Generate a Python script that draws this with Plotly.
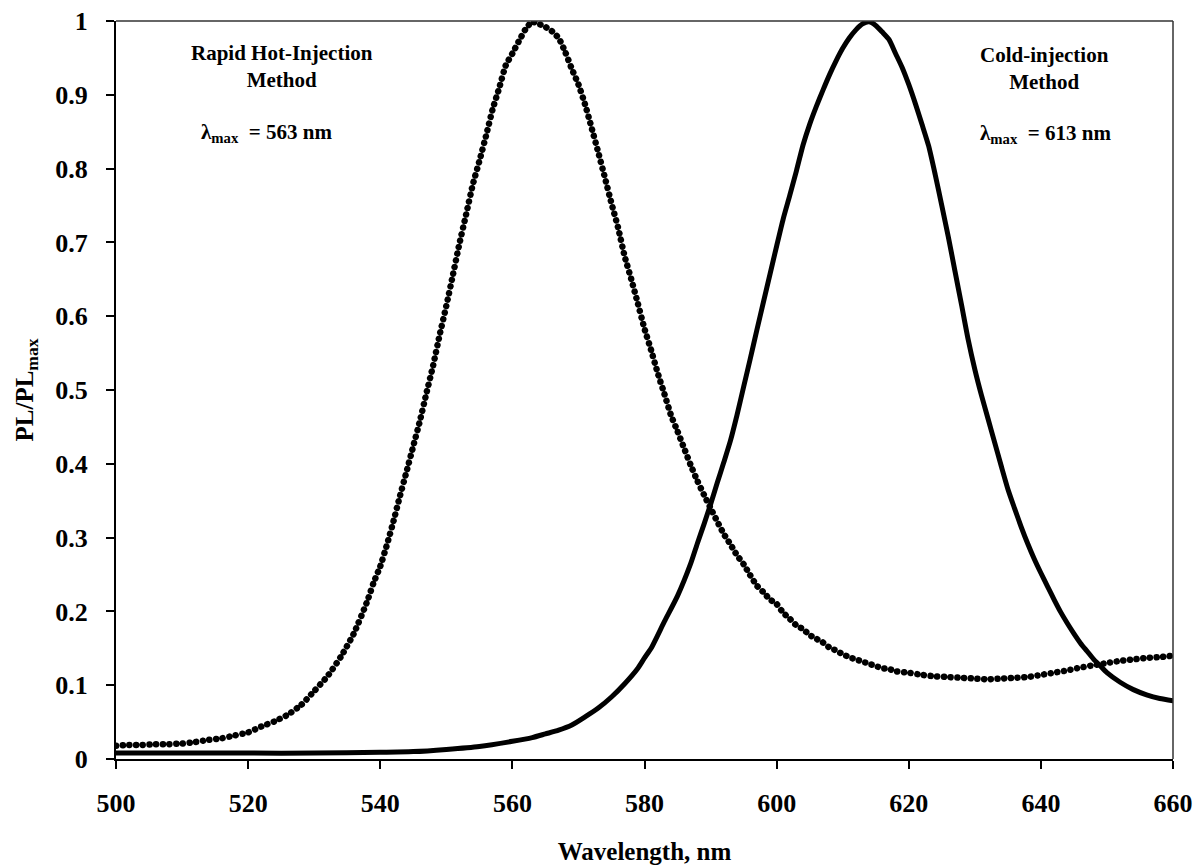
import plotly.graph_objects as go

# Normalised photoluminescence spectra, PL/PL_max versus wavelength (nm)

# Rapid hot-injection sample (dotted curve)
hot_wavelength = [
    500, 502, 504, 506, 508, 510, 512, 514, 516, 518, 520, 522, 524, 526, 528,
    530, 532, 534, 536, 538, 539, 540, 541, 542, 543, 544, 545, 546, 547, 548,
    549, 550, 551, 552, 553, 554, 555, 556, 557, 558, 559, 560, 561, 562, 563,
    564, 565, 566, 567, 568, 569, 570, 571, 572, 573, 574, 575, 576, 577, 578,
    579, 580, 581, 582, 583, 584, 585, 586, 587, 588, 589, 590, 591, 592, 593,
    594, 595, 596, 597, 598, 599, 600, 601, 602, 603, 604, 605, 606, 607, 608,
    609, 610, 611, 612, 613, 614, 615, 616, 617, 618, 620, 622, 624, 626, 628,
    630, 632, 634, 636, 638, 640, 642, 644, 646, 648, 650, 652, 654, 656, 658,
    660,
]
hot_pl = [
    0.018, 0.019, 0.019, 0.020, 0.020, 0.021, 0.023, 0.026, 0.028, 0.032, 0.036,
    0.044, 0.051, 0.060, 0.073, 0.092, 0.112, 0.138, 0.170, 0.213, 0.239, 0.261,
    0.290, 0.322, 0.357, 0.390, 0.424, 0.458, 0.496, 0.533, 0.575, 0.614, 0.656,
    0.699, 0.738, 0.778, 0.810, 0.844, 0.880, 0.909, 0.940, 0.956, 0.973, 0.989,
    0.999, 0.996, 0.992, 0.986, 0.977, 0.958, 0.935, 0.914, 0.887, 0.855, 0.822,
    0.788, 0.753, 0.720, 0.681, 0.650, 0.617, 0.583, 0.554, 0.523, 0.495, 0.466,
    0.444, 0.421, 0.398, 0.377, 0.358, 0.340, 0.322, 0.305, 0.291, 0.276, 0.264,
    0.249, 0.235, 0.226, 0.216, 0.210, 0.198, 0.190, 0.181, 0.176, 0.168, 0.163,
    0.158, 0.151, 0.147, 0.142, 0.138, 0.135, 0.132, 0.129, 0.126, 0.123, 0.122,
    0.119, 0.117, 0.114, 0.112, 0.111, 0.110, 0.109, 0.108, 0.109, 0.110, 0.111,
    0.114, 0.117, 0.120, 0.124, 0.127, 0.130, 0.133, 0.135, 0.137, 0.138, 0.140,
]

# Cold-injection sample (solid curve)
cold_wavelength = [
    500, 510, 520, 530, 540, 545, 550, 555, 560, 563, 565, 567, 569, 571, 573,
    575, 577, 579, 580, 581, 583, 585, 587, 588, 589, 590, 591, 592, 593, 594,
    595, 596, 597, 598, 599, 600, 601, 602, 603, 604, 605, 606, 607, 608, 609,
    610, 611, 612, 613, 614, 615, 616, 617, 618, 619, 620, 621, 622, 623, 624,
    625, 626, 627, 628, 629, 630, 631, 632, 633, 634, 635, 636, 637, 638, 639,
    640, 641, 642, 643, 644, 645, 646, 647, 648, 649, 650, 652, 654, 656, 658,
    660,
]
cold_pl = [
    0.008, 0.008, 0.008, 0.008, 0.009, 0.010, 0.013, 0.017, 0.024, 0.029, 0.034,
    0.039, 0.046, 0.057, 0.069, 0.084, 0.102, 0.123, 0.137, 0.150, 0.186, 0.221,
    0.265, 0.292, 0.318, 0.345, 0.374, 0.402, 0.431, 0.466, 0.504, 0.542, 0.581,
    0.619, 0.657, 0.695, 0.732, 0.764, 0.797, 0.832, 0.860, 0.884, 0.906, 0.927,
    0.946, 0.963, 0.977, 0.988, 0.996, 0.999, 0.994, 0.985, 0.975, 0.956, 0.937,
    0.914, 0.888, 0.860, 0.831, 0.792, 0.750, 0.707, 0.661, 0.615, 0.568, 0.528,
    0.493, 0.461, 0.429, 0.397, 0.366, 0.340, 0.315, 0.292, 0.271, 0.252, 0.234,
    0.216, 0.199, 0.184, 0.170, 0.157, 0.146, 0.135, 0.126, 0.117, 0.104, 0.094,
    0.087, 0.082, 0.079,
]

x_ticks = [500, 520, 540, 560, 580, 600, 620, 640, 660]
x_tick_text = ["500", "520", "540", "560", "580", "600", "620", "640", "660"]
y_ticks = [0, 0.1, 0.2, 0.3, 0.4, 0.5, 0.6, 0.7, 0.8, 0.9, 1]
y_tick_text = ["0", "0.1", "0.2", "0.3", "0.4", "0.5", "0.6", "0.7", "0.8", "0.9", "1"]

SERIF = "Liberation Serif, Times New Roman, serif"
INK = "#000000"

fig = go.Figure()

fig.add_trace(go.Scatter(
    x=hot_wavelength, y=hot_pl, mode="lines",
    line=dict(color=INK, width=6.5, dash="0.1px,6.6px", shape="spline", smoothing=0.5),
    name="Rapid Hot-Injection", hoverinfo="x+y",
))
fig.add_trace(go.Scatter(
    x=cold_wavelength, y=cold_pl, mode="lines",
    line=dict(color=INK, width=5, shape="spline", smoothing=0.6),
    name="Cold-injection", hoverinfo="x+y",
))

axis_common = dict(
    showgrid=False, zeroline=False, showline=True, linecolor=INK, linewidth=2,
    ticks="outside", ticklen=8, tickwidth=2, tickcolor=INK, mirror=False,
    automargin=False,
    tickfont=dict(family=SERIF, size=26, color=INK, weight="bold"),
)

fig.update_layout(
    width=1196, height=865,
    margin=dict(l=116, r=23, t=21, b=106),
    paper_bgcolor="white", plot_bgcolor="white",
    showlegend=False,
    font=dict(family=SERIF, color=INK),
    xaxis=dict(
        range=[500, 660], tickvals=x_ticks, ticktext=x_tick_text,
        ticklabelstandoff=12,
        title=dict(text="<b>Wavelength, nm</b>", standoff=38,
                   font=dict(family=SERIF, size=25, color=INK)),
        **axis_common,
    ),
    yaxis=dict(
        range=[0, 1], tickvals=y_ticks, ticktext=y_tick_text,
        ticklabelstandoff=13,
        title=dict(text="<b>PL/PL<sub>max</sub></b>", standoff=15,
                   font=dict(family=SERIF, size=25, color=INK)),
        **axis_common,
    ),
    shapes=[
        # thin frame closing the plot area on the top and right
        dict(type="line", xref="paper", yref="paper", x0=0, x1=1, y0=1, y1=1,
             line=dict(color="#333333", width=1.5)),
        dict(type="line", xref="paper", yref="paper", x0=1, x1=1, y0=0, y1=1,
             line=dict(color="#333333", width=1.5)),
    ],
)

label_font = dict(family=SERIF, size=21, color=INK)
fig.add_annotation(x=525.2, y=0.939, xref="x", yref="y", showarrow=False,
                   text="<b>Rapid Hot-Injection<br>Method</b>", font=label_font,
                   align="center")
fig.add_annotation(x=522.8, y=0.848, xref="x", yref="y", showarrow=False,
                   text="<b>\u03bb<sub>max</sub>\u00a0 = 563 nm</b>", font=label_font)
fig.add_annotation(x=640.6, y=0.936, xref="x", yref="y", showarrow=False,
                   text="<b>Cold-injection<br>Method</b>", font=label_font,
                   align="center")
fig.add_annotation(x=640.7, y=0.847, xref="x", yref="y", showarrow=False,
                   text="<b>\u03bb<sub>max</sub>\u00a0 = 613 nm</b>", font=label_font)

# Round line caps turn the tiny dashes of the first trace into round dots
ROUND_CAPS = """
var gd = document.getElementById('{plot_id}');
function roundCaps() {
  gd.querySelectorAll('.scatterlayer path.js-line').forEach(function (p) {
    p.style.strokeLinecap = 'round';
    p.style.strokeLinejoin = 'round';
  });
}
roundCaps();
gd.on('plotly_afterplot', roundCaps);
"""

fig.write_html("out.html", post_script=ROUND_CAPS)
